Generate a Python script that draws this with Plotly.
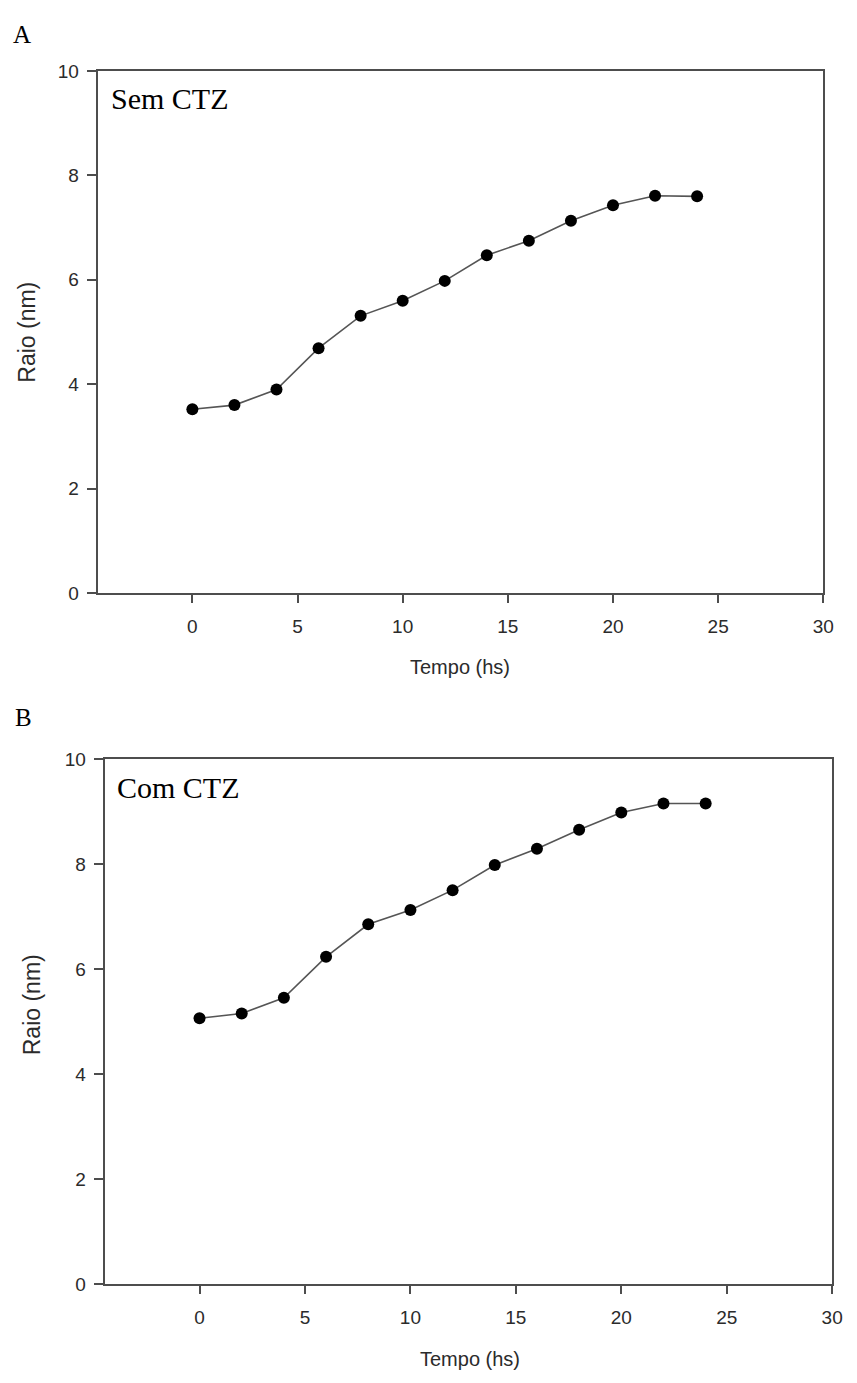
import plotly.graph_objects as go

# Hydrodynamic radius over time, without and with CTZ
tempo = [0, 2, 4, 6, 8, 10, 12, 14, 16, 18, 20, 22, 24]
raio_sem_ctz = [3.52, 3.60, 3.90, 4.69, 5.31, 5.60, 5.98, 6.47, 6.75, 7.13, 7.43, 7.61, 7.60]
raio_com_ctz = [5.07, 5.16, 5.46, 6.24, 6.86, 7.13, 7.51, 7.99, 8.30, 8.66, 8.99, 9.16, 9.16]

x_ticks = [0, 5, 10, 15, 20, 25, 30]
y_ticks = [0, 2, 4, 6, 8, 10]

W, H = 857, 1383
FRAME = "#4d4d4d"
SANS = "Liberation Sans, Arial, sans-serif"
SERIF = "Liberation Serif, Times New Roman, serif"
TICKFONT = dict(family=SANS, size=19, color="#2b2b2b")
TITLEFONT = dict(family=SANS, size=20, color="#2b2b2b")

fig = go.Figure()

line_style = dict(color="#555555", width=1.6)
marker_style = dict(color="black", size=12, symbol="circle")

fig.add_trace(go.Scatter(x=tempo, y=raio_sem_ctz, mode="lines+markers",
                         line=line_style, marker=marker_style,
                         xaxis="x", yaxis="y", showlegend=False))
fig.add_trace(go.Scatter(x=tempo, y=raio_com_ctz, mode="lines+markers",
                         line=line_style, marker=marker_style,
                         xaxis="x2", yaxis="y2", showlegend=False))


def px_x(v):
    return v / W


def px_y(v):
    return 1 - v / H


def xaxis(domain, anchor):
    return dict(domain=domain, anchor=anchor, range=[-4.5, 30],
                tickvals=x_ticks, ticks="outside", ticklen=8, tickwidth=1.5,
                tickcolor=FRAME, showline=True, linecolor=FRAME, linewidth=2,
                mirror=True, showgrid=False, zeroline=False,
                tickfont=TICKFONT, ticklabelstandoff=7)


def yaxis(domain, anchor):
    return dict(domain=domain, anchor=anchor, range=[0, 10],
                tickvals=y_ticks, ticks="outside", ticklen=9, tickwidth=1.5,
                tickcolor=FRAME, showline=True, linecolor=FRAME, linewidth=2,
                mirror=True, showgrid=False, zeroline=False,
                tickfont=TICKFONT, ticklabelstandoff=4)


# panel A: x 99..834 px, y 62..592 px ; panel B: x 106..843 px, y 761..1294 px
fig.update_layout(
    width=W, height=H,
    margin=dict(l=0, r=0, t=0, b=0),
    paper_bgcolor="white", plot_bgcolor="white",
    xaxis=xaxis([px_x(99), px_x(834)], "y"),
    yaxis=yaxis([px_y(592), px_y(62)], "x"),
    xaxis2=xaxis([px_x(106), px_x(843)], "y2"),
    yaxis2=yaxis([px_y(1294), px_y(761)], "x2"),
)

annotations = [
    # panel letters
    dict(text="A", x=px_x(22), y=px_y(25), font=dict(family=SERIF, size=25, color="black")),
    dict(text="B", x=px_x(24), y=px_y(718), font=dict(family=SERIF, size=25, color="black")),
    # in-plot labels
    dict(text="Sem CTZ", x=px_x(110), y=px_y(90), xanchor="left",
         font=dict(family=SERIF, size=30, color="black")),
    dict(text="Com CTZ", x=px_x(116), y=px_y(789), xanchor="left",
         font=dict(family=SERIF, size=30, color="black")),
    # axis titles
    dict(text="Tempo (hs)", x=px_x(466), y=px_y(667), font=TITLEFONT),
    dict(text="Tempo (hs)", x=px_x(476), y=px_y(1370), font=TITLEFONT),
    dict(text="Raio (nm)", x=px_x(27), y=px_y(327), textangle=-90,
         font=dict(family=SANS, size=23, color="#2b2b2b")),
    dict(text="Raio (nm)", x=px_x(32), y=px_y(1010), textangle=-90,
         font=dict(family=SANS, size=23, color="#2b2b2b")),
]
for a in annotations:
    a.setdefault("xanchor", "center")
    a.update(xref="paper", yref="paper", yanchor="middle", showarrow=False)
fig.update_layout(annotations=annotations)

fig.write_html("out.html")
